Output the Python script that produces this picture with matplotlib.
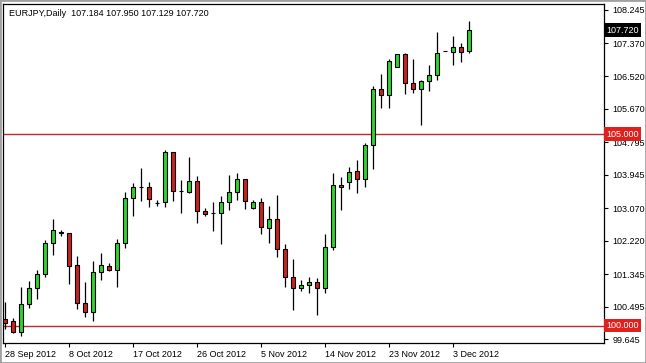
import matplotlib
matplotlib.use("Agg")
import matplotlib.pyplot as plt
import matplotlib.transforms as mtransforms
from matplotlib.patches import Rectangle

# EURJPY daily candles, 28 Sep 2012 .. 5 Dec 2012 (MT4, incl. sunday bars)
opens = [100.188, 100.131, 99.844, 100.559, 100.977, 101.343, 102.152, 102.429, 102.413, 101.578,
         100.585, 100.366, 101.395, 101.559, 101.455, 102.152, 103.327, 103.630, 103.630, 103.212,
         103.223, 104.529, 103.518, 103.500, 103.771, 102.996, 102.936, 102.936, 103.239, 103.500,
         103.824, 103.066, 103.223, 102.560, 102.779, 101.995, 101.264, 100.977, 101.055, 101.134,
         100.977, 102.048, 103.667, 103.745, 104.040, 103.839, 104.719, 106.174, 106.017, 106.764,
         107.096, 106.331, 106.182, 106.391, 106.540, 107.166, 107.140, 107.287, 107.184]
highs = [100.632, 100.193, 101.019, 101.175, 101.455, 102.238, 102.787, 102.499, 102.420, 101.821,
         101.134, 101.690, 101.907, 101.630, 102.257, 103.500, 103.719, 104.111, 103.761, 103.283,
         104.589, 104.540, 103.805, 104.414, 103.910, 103.066, 103.239, 103.387, 103.936, 103.980,
         103.830, 103.283, 103.327, 103.126, 103.414, 102.134, 101.734, 101.194, 101.264, 101.238,
         102.395, 103.980, 103.876, 104.137, 104.328, 104.779, 106.260, 106.574, 106.957, 107.100,
         107.114, 106.957, 106.417, 106.809, 107.663, 107.175, 107.566, 107.375, 107.950]
lows = [99.914, 99.802, 99.739, 100.455, 100.690, 101.280, 101.839, 102.343, 101.089, 100.429,
        100.235, 100.123, 101.194, 101.440, 101.003, 102.022, 102.873, 103.265, 103.108, 103.126,
        103.108, 103.257, 102.951, 103.474, 102.674, 102.873, 102.481, 102.134, 103.022, 103.283,
        103.040, 103.060, 102.395, 102.152, 101.786, 101.003, 100.410, 100.914, 100.846, 100.280,
        100.862, 101.977, 103.022, 103.570, 103.474, 103.630, 104.085, 105.693, 105.693, 106.749,
        106.051, 106.085, 105.242, 106.137, 106.417, 107.160, 106.809, 106.895, 107.129]
closes = [100.063, 99.844, 100.559, 100.977, 101.343, 102.152, 102.499, 102.435, 101.567, 100.585,
          100.366, 101.395, 101.578, 101.455, 102.152, 103.327, 103.630, 103.635, 103.301, 103.215,
          104.529, 103.526, 103.520, 103.771, 103.004, 102.909, 102.938, 103.239, 103.500, 103.824,
          103.265, 103.223, 102.586, 102.779, 101.995, 101.264, 100.977, 101.055, 101.134, 100.977,
          102.048, 103.667, 103.615, 104.022, 103.839, 104.712, 106.174, 106.017, 106.913, 107.088,
          106.331, 106.182, 106.391, 106.540, 107.114, 107.168, 107.287, 107.156, 107.720]

date_pos = [0, 8, 16, 24, 32, 40, 48, 56]
date_labels = ["28 Sep 2012", "8 Oct 2012", "17 Oct 2012", "26 Oct 2012",
               "5 Nov 2012", "14 Nov 2012", "23 Nov 2012", "3 Dec 2012"]
price_ticks = [108.245, 107.370, 106.520, 105.670, 104.795, 103.945,
               103.070, 102.220, 101.345, 100.495, 99.645]
levels = [105.0, 100.0]
header = "EURJPY,Daily  107.184 107.950 107.129 107.720"

bull = "#32d232"
bear = "#cc2222"
line_red = "#c0282c"
fs = 6.5

plt.rcParams["font.family"] = ["Liberation Sans", "DejaVu Sans"]

fig = plt.figure(figsize=(6.46, 3.63), dpi=100)
fig.patch.set_facecolor("white")
fig.patches.append(Rectangle((0.0, 0.0), 1.0, 1.0, transform=fig.transFigure,
                             fill=False, edgecolor="#a0a0a0", linewidth=2))
ax = fig.add_axes([3 / 646, 20 / 363, 601 / 646, 339 / 363])

x = list(range(len(opens)))
for i in x:
    o, h, l, c = opens[i], highs[i], lows[i], closes[i]
    ax.vlines(i, l, h, color="black", linewidth=0.9, zorder=2)
    col = bull if c >= o else bear
    ax.bar(i, abs(c - o), bottom=min(o, c), width=0.55, color=col,
           edgecolor="black", linewidth=0.8, zorder=3)

for lv in levels:
    ax.axhline(lv, color=line_red, linewidth=1.0, zorder=1)

ax.set_xlim(-0.25, 74.875)
ax.set_ylim(99.549, 108.40)

ax.yaxis.tick_right()
ax.set_yticks(price_ticks)
ax.set_yticklabels(["%.3f" % t for t in price_ticks])
ax.tick_params(axis="y", direction="out", length=3, width=0.8, labelsize=fs, pad=3)

ax.set_xticks(date_pos)
ax.set_xticklabels(date_labels, ha="left")
ax.tick_params(axis="x", direction="out", length=3, width=0.8, labelsize=fs, pad=2)

for sp in ax.spines.values():
    sp.set_color("black")
    sp.set_linewidth(0.9)

ax.text(0.01, 0.985, header, transform=ax.transAxes, fontsize=fs,
        va="top", ha="left")

trans = mtransforms.blended_transform_factory(ax.transAxes, ax.transData)
for lv in levels:
    ax.text(1.004, lv, "%.3f" % lv, transform=trans, fontsize=fs, color="white",
            va="center", ha="left", zorder=5,
            bbox=dict(boxstyle="square,pad=0.25", facecolor="#e0201c", edgecolor="none"))
ax.text(1.004, closes[-1], "%.3f" % closes[-1], transform=trans, fontsize=fs,
        color="white", va="center", ha="left", zorder=5,
        bbox=dict(boxstyle="square,pad=0.25", facecolor="black", edgecolor="none"))

fig.savefig("out.png", dpi=100, facecolor="white")
